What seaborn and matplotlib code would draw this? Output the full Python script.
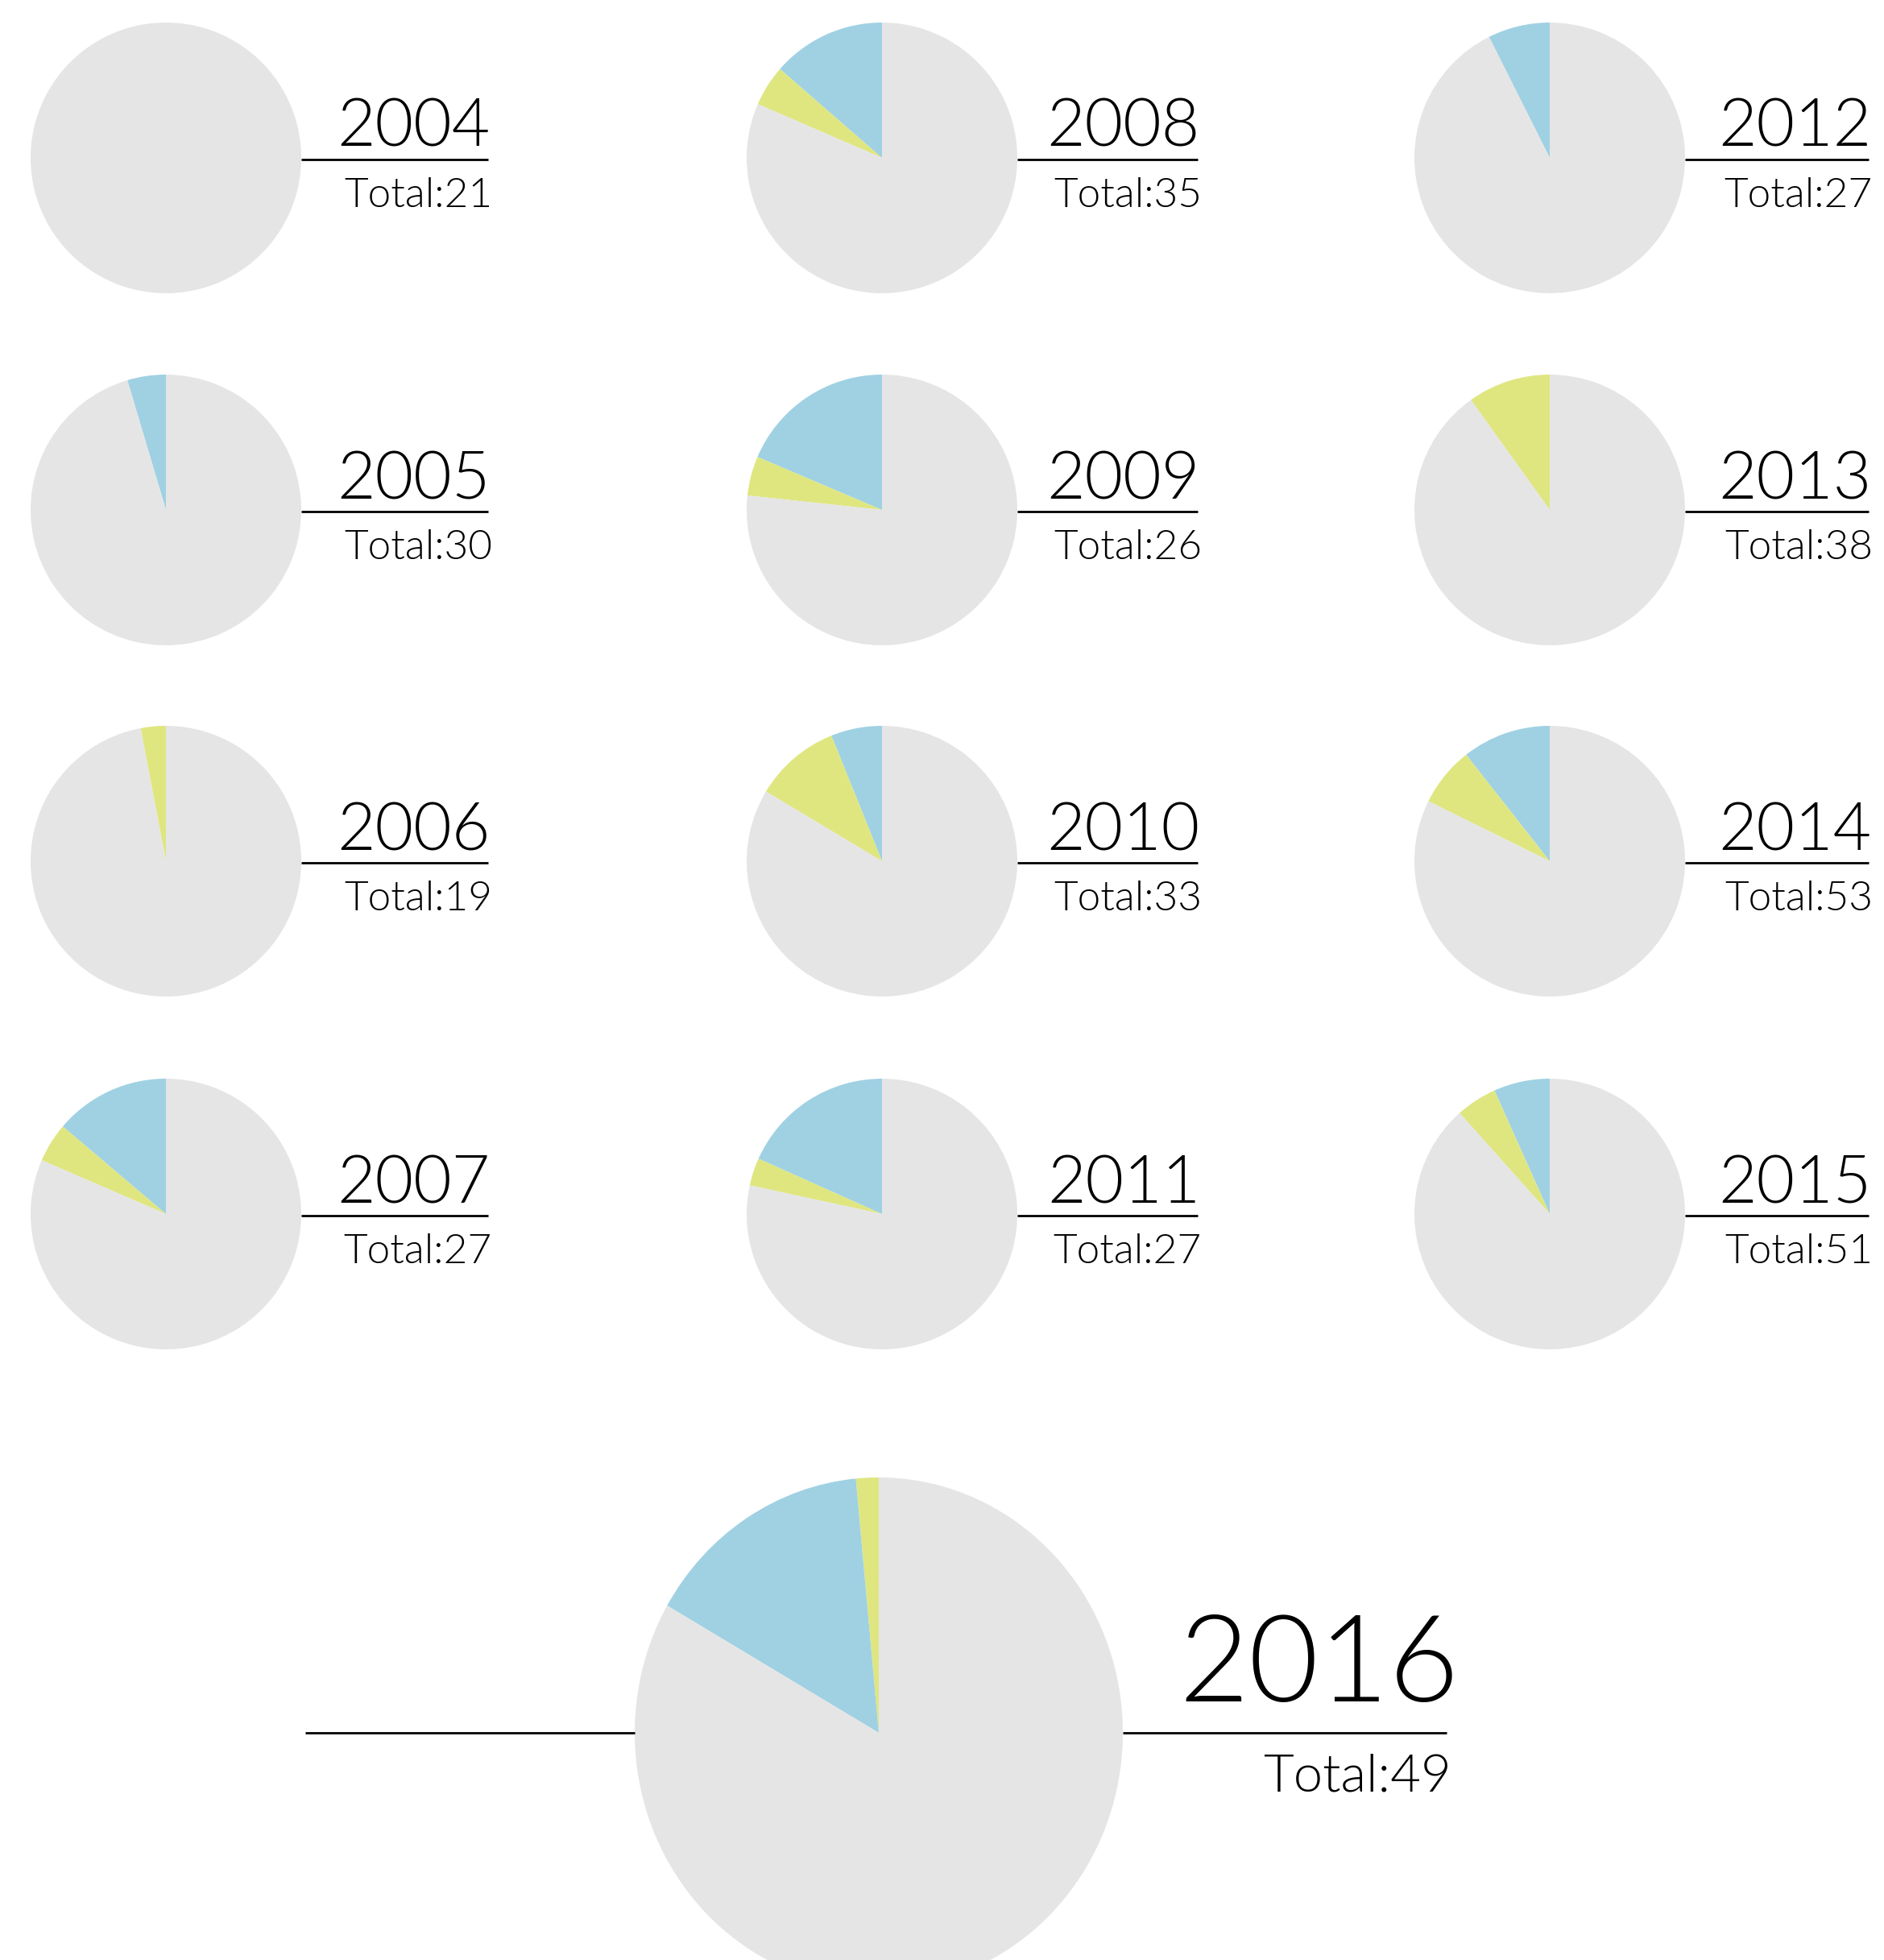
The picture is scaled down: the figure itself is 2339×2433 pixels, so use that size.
import matplotlib
matplotlib.use("Agg")
import matplotlib.pyplot as plt
from matplotlib.lines import Line2D
import seaborn as sns

# ---------------- data ----------------
years = [2004, 2005, 2006, 2007, 2008, 2009, 2010, 2011, 2012, 2013, 2014, 2015, 2016]
totals = [21, 30, 19, 27, 35, 26, 33, 27, 27, 38, 53, 51, 49]
blue_pct = [0, 4.6, 0, 13.8, 13.6, 18.6, 6.1, 18.3, 7.4, 0, 10.6, 6.7, 15.2]
yellow_pct = [0, 0, 3.0, 4.7, 4.9, 4.7, 10.3, 3.3, 0, 9.9, 7.1, 4.9, 1.5]
yellow_first = [False] * 12 + [True]

# ---------------- style ----------------
sns.set_theme(style="white")
plt.rcParams['font.family'] = ['Lato', 'DejaVu Sans']
GREY, BLUE, YELLOW = "#e5e5e5", "#9fd1e3", "#dfe680"
TXT_W = 300

W, H = 2339, 2433
DPI = 100
fig = plt.figure(figsize=(W / DPI, H / DPI), dpi=DPI)
fig.patch.set_facecolor("white")


def fx(x):
    return x / W


def fy(y):
    return 1 - y / H


def draw_pie(i, cx, cy, rx, ry):
    ax = fig.add_axes([fx(cx - rx), fy(cy + ry), 2 * rx / W, 2 * ry / H])
    b, yl = blue_pct[i], yellow_pct[i]
    g = 100 - b - yl
    if yellow_first[i]:
        vals, cols = [yl, b, g], [YELLOW, BLUE, GREY]
    else:
        vals, cols = [b, yl, g], [BLUE, YELLOW, GREY]
    ax.pie(vals, colors=cols, startangle=90, counterclock=True,
           wedgeprops=dict(linewidth=0))
    ax.set_aspect('auto')
    ax.set_xlim(-1, 1)
    ax.set_ylim(-1, 1)
    ax.axis('off')


def hline(x0, x1, y, lw=2.0):
    fig.add_artist(Line2D([fx(x0), fx(x1)], [fy(y), fy(y)],
                          transform=fig.transFigure, color="black",
                          linewidth=lw, solid_capstyle='butt'))


# small pies: column-major grid
col_cx = [206, 1095, 1924]
col_right = [606, 1487, 2320]
row_cy = [196, 633, 1069, 1507]
R = 168

for i in range(12):
    c, r = divmod(i, 4)
    cx, cy = col_cx[c], row_cy[r]
    draw_pie(i, cx, cy, R, R)
    hline(cx + R, col_right[c], cy + 2)
    fig.text(fx(col_right[c] + 3), fy(cy - 14), str(years[i]), ha='right',
             va='baseline', fontsize=59, fontweight=TXT_W, color='black')
    fig.text(fx(col_right[c] + 5), fy(cy + 61), f"Total:{totals[i]}",
             ha='right', va='baseline', fontsize=37, fontweight=TXT_W,
             color='black')

# big 2016 pie
bcx, bcy, brx, bry = 1091, 2151, 303, 317
draw_pie(12, bcx, bcy, brx, bry)
hline(379, bcx - brx, bcy)
hline(bcx + brx, 1796, bcy)
fig.text(fx(1812), fy(bcy - 39), str(years[12]), ha='right', va='baseline',
         fontsize=108, fontweight=TXT_W, color='black')
fig.text(fx(1802), fy(bcy + 72), f"Total:{totals[12]}", ha='right',
         va='baseline', fontsize=47, fontweight=TXT_W, color='black')

fig.savefig("out.png", dpi=DPI, facecolor="white")
